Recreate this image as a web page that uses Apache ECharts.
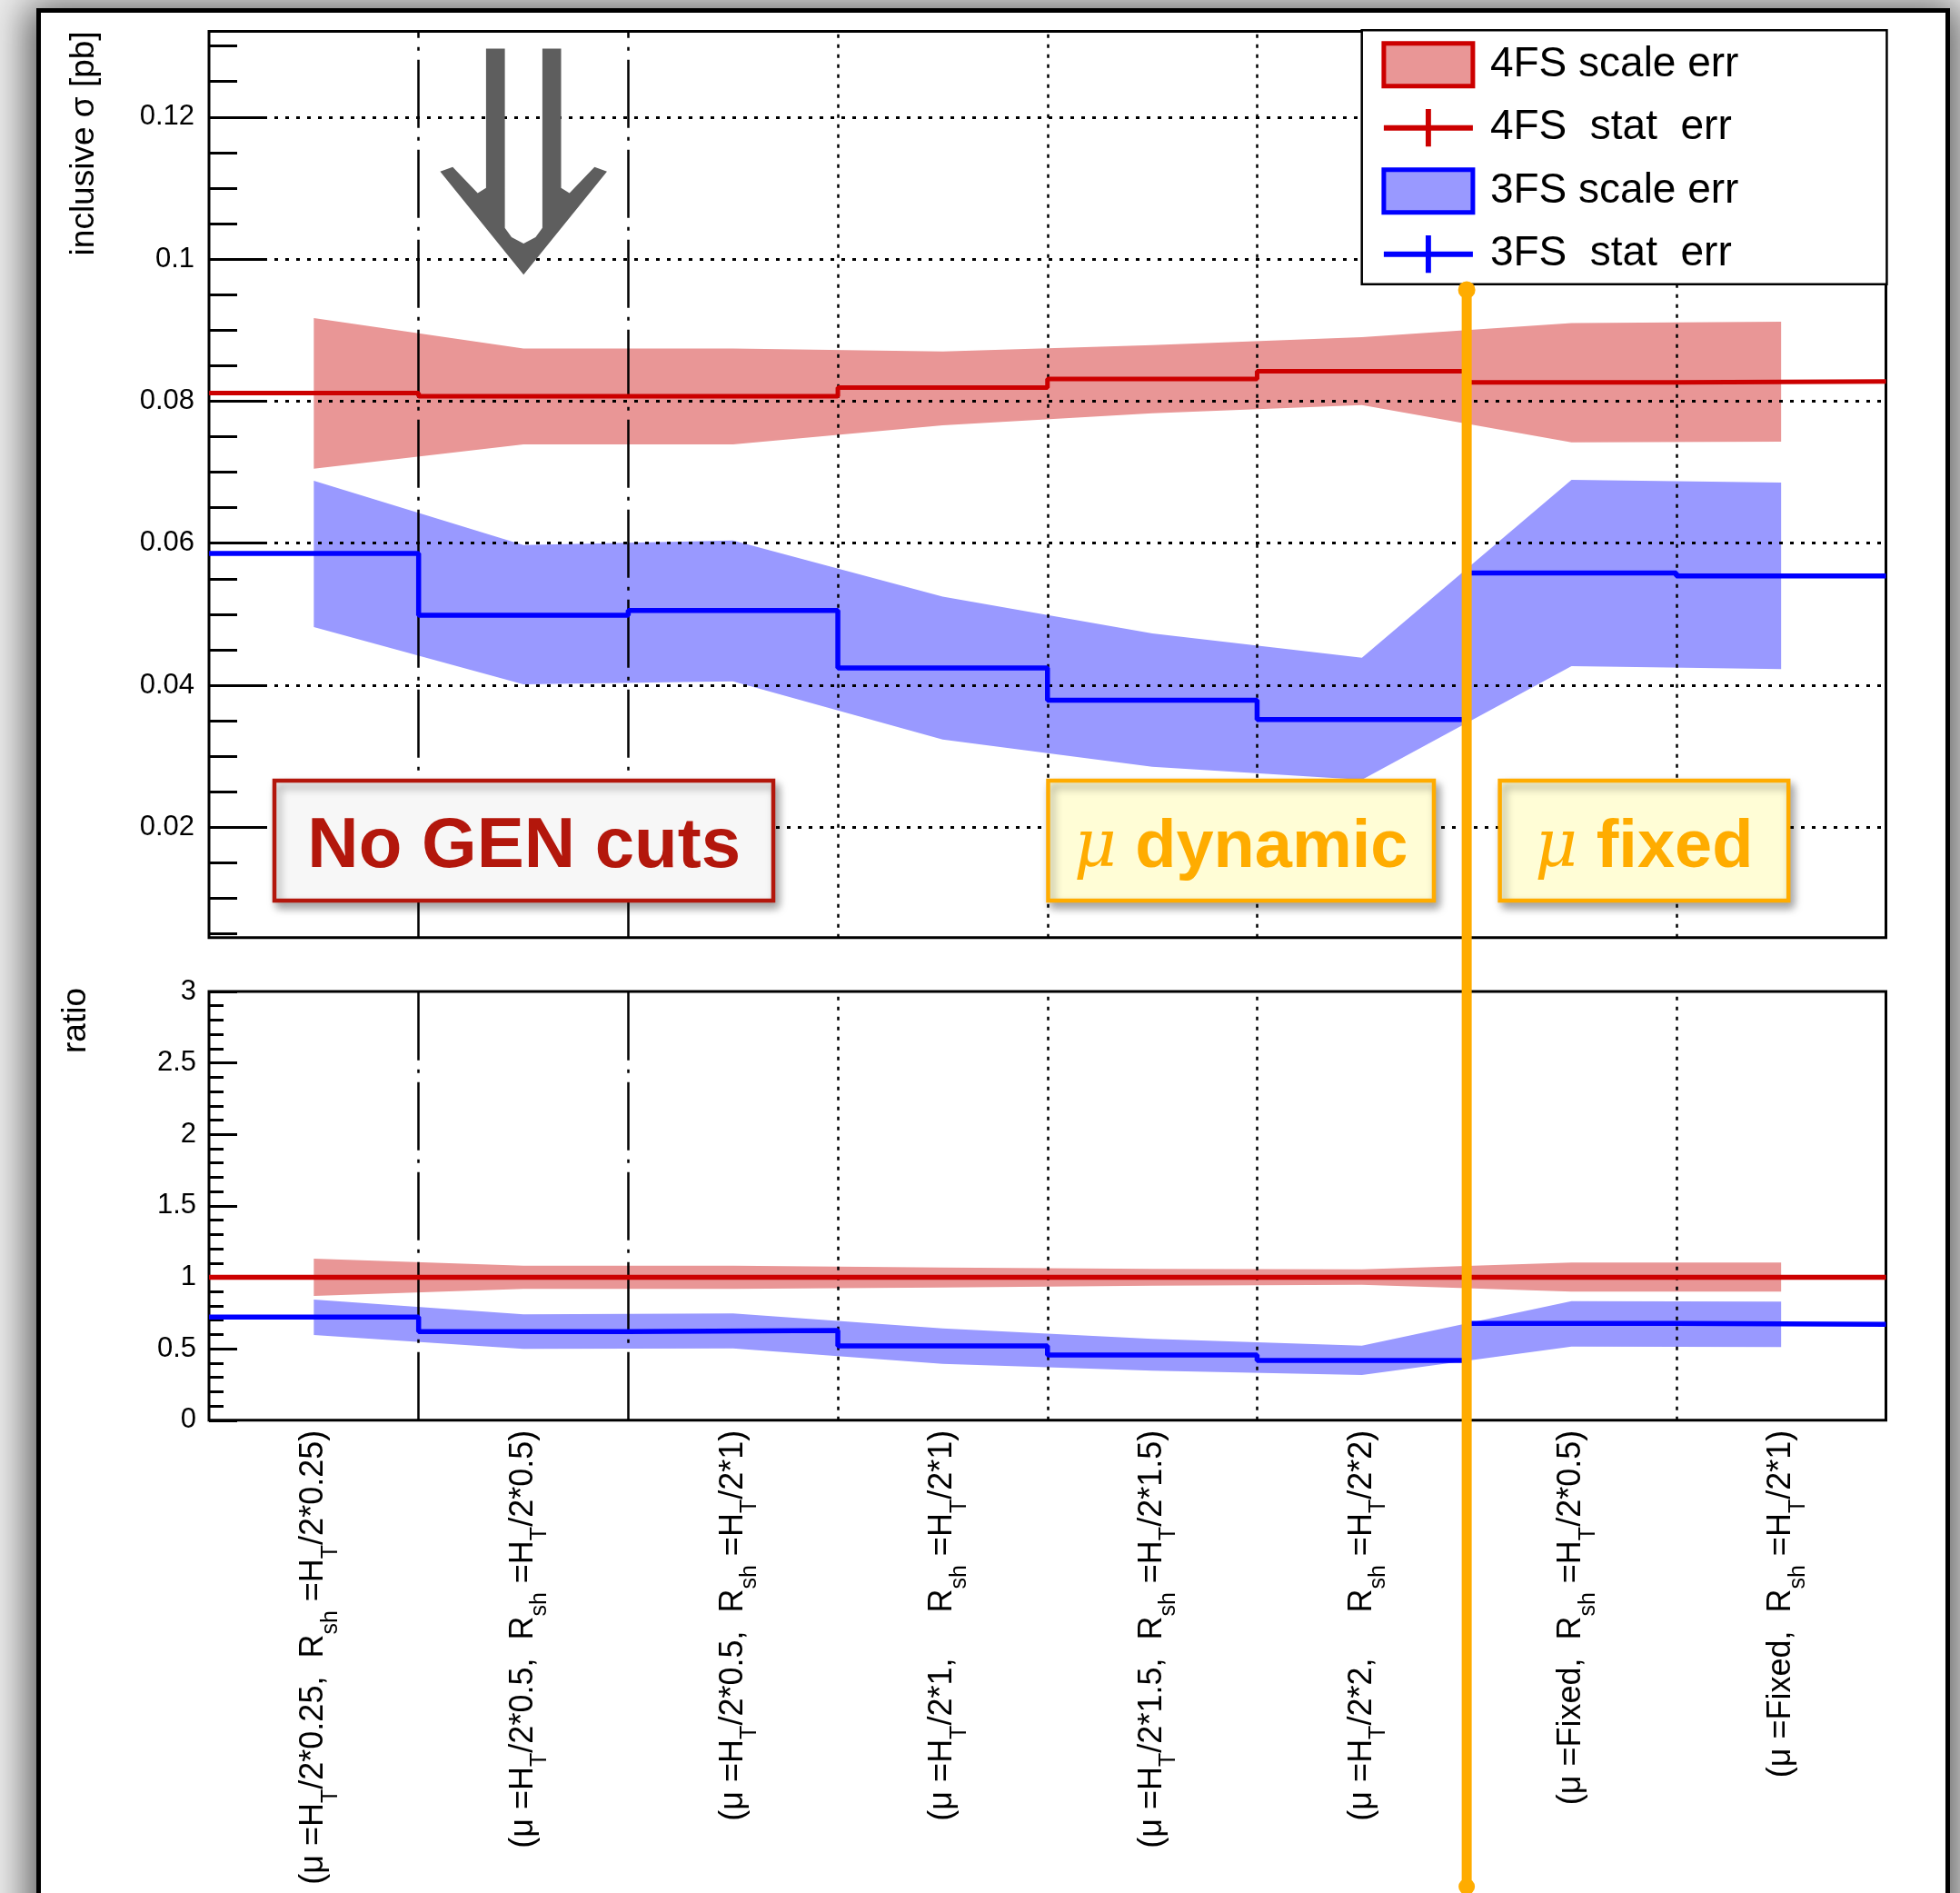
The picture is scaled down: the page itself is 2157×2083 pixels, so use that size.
<!DOCTYPE html>
<html>
<head>
<meta charset="utf-8">
<script src="https://cdn.jsdelivr.net/npm/echarts@6/dist/echarts.min.js"></script>
<style>
  html, body { margin: 0; padding: 0; width: 2157px; height: 2083px; overflow: hidden; background: #ececec; }
  #sheet { position: absolute; left: 40px; top: 9px; width: 2096px; height: 2200px;
           border: 5px solid #000; background: #fff; box-shadow: 0 6px 40px 10px rgba(0,0,0,0.6); }
  #chart { position: absolute; left: 0; top: 0; width: 2157px; height: 2083px; }
</style>
</head>
<body>
<div id="sheet"></div>
<div id="chart"></div>
<script>
// ---- bins (scale choices), "_{..}" marks a subscript ----
const CATEGORIES = [
  '(μ =H_{T}/2*0.25,  R_{sh} =H_{T}/2*0.25)',
  '(μ =H_{T}/2*0.5,  R_{sh} =H_{T}/2*0.5)',
  '(μ =H_{T}/2*0.5,  R_{sh} =H_{T}/2*1)',
  '(μ =H_{T}/2*1,     R_{sh} =H_{T}/2*1)',
  '(μ =H_{T}/2*1.5,  R_{sh} =H_{T}/2*1.5)',
  '(μ =H_{T}/2*2,     R_{sh} =H_{T}/2*2)',
  '(μ =Fixed,  R_{sh} =H_{T}/2*0.5)',
  '(μ =Fixed,  R_{sh} =H_{T}/2*1)'
];

// ---- inclusive cross section [pb] ----
const XS_4FS       = [0.08115, 0.0807, 0.0807, 0.0819, 0.08312, 0.08422, 0.08265, 0.08278];
const XS_4FS_UP    = [0.0917, 0.0874, 0.0874, 0.0870, 0.0879, 0.0890, 0.0910, 0.0912];
const XS_4FS_DOWN  = [0.0705, 0.0739, 0.0739, 0.0766, 0.0783, 0.07945, 0.0742, 0.0743];
const XS_3FS       = [0.05855, 0.04985, 0.05053, 0.04243, 0.0379, 0.03518, 0.05582, 0.0554];
const XS_3FS_UP    = [0.06879, 0.05974, 0.06038, 0.05249, 0.0473, 0.04388, 0.06892, 0.06853];
const XS_3FS_DOWN  = [0.04819, 0.04013, 0.04055, 0.03236, 0.02852, 0.02669, 0.04269, 0.04226];

// ---- ratio to the 4FS central value ----
const RATIO_4FS      = [1, 1, 1, 1, 1, 1, 1, 1];
const RATIO_4FS_UP   = [1.131, 1.082, 1.082, 1.069, 1.059, 1.056, 1.103, 1.103];
const RATIO_4FS_DOWN = [0.870, 0.919, 0.919, 0.929, 0.942, 0.948, 0.900, 0.900];
const RATIO_3FS      = [0.7216, 0.620, 0.628, 0.520, 0.4565, 0.4183, 0.677, 0.671];
const RATIO_3FS_UP   = [0.844, 0.741, 0.747, 0.643, 0.569, 0.522, 0.834, 0.830];
const RATIO_3FS_DOWN = [0.596, 0.499, 0.503, 0.395, 0.3465, 0.3166, 0.516, 0.512];

// ---- axes ----
const TOP_Y_MIN = 0.00447, TOP_Y_MAX = 0.13208;
const TOP_TICK_LABELS = [0.02, 0.04, 0.06, 0.08, 0.1, 0.12];
const TOP_MINOR_TICKS = [0.005, 0.01, 0.015, 0.02, 0.025, 0.03, 0.035, 0.04, 0.045, 0.05, 0.055, 0.06,
                         0.065, 0.07, 0.075, 0.08, 0.085, 0.09, 0.095, 0.1, 0.105, 0.11, 0.115, 0.12, 0.125, 0.13];
const RATIO_MIN = 0, RATIO_MAX = 3, RATIO_STEP = 0.5;
const EDGES_DASHDOT = [1, 2];
const EDGES_DOTTED = [3, 4, 5, 6, 7];
const DIVIDER_EDGE = 6;

const FONT = 'Liberation Sans';
const RED = '#cc0000', BLUE = '#0000ff', PINK = '#e99696', LILAC = '#9999ff', ORANGE = '#ffac00';

// histogram: one horizontal step per bin
const histPoints = vals => vals.map((v, i) => [i, v]).concat([[vals.length, vals[vals.length - 1]]]);

// scale band: polygon through the bin centres
function band(name, lo, hi, color, gi) {
  const pts = lo.map((l, i) => [i + 0.5, l, hi[i]]);
  return {
    type: 'custom', name, xAxisIndex: gi === 0 ? 0 : 1, yAxisIndex: gi === 0 ? 0 : 2,
    z: 2, silent: true, data: pts, encode: { x: 0, y: [1, 2] },
    renderItem(params, api) {
      if (params.dataIndex !== 0) return null;
      const upper = pts.map(p => api.coord([p[0], p[2]]));
      const lower = pts.map(p => api.coord([p[0], p[1]])).reverse();
      return { type: 'polygon', shape: { points: upper.concat(lower) }, style: { fill: color } };
    }
  };
}

function gridLines(withHorizontal) {
  const data = [];
  EDGES_DASHDOT.forEach(x => data.push({ xAxis: x, lineStyle: { color: '#000', width: 2.5, type: [75, 10, 4, 10] } }));
  EDGES_DOTTED.forEach(x => data.push({ xAxis: x, lineStyle: { color: '#000', width: 2.5, type: [4, 7] } }));
  if (withHorizontal) TOP_TICK_LABELS.forEach(y => data.push({ yAxis: y, lineStyle: { color: '#000', width: 3, type: [4, 8] } }));
  return { silent: true, symbol: 'none', z: 3, label: { show: false }, emphasis: { disabled: true }, data };
}

function step(name, vals, color, width, gi, lines) {
  const s = {
    type: 'line', name, xAxisIndex: gi === 0 ? 0 : 1, yAxisIndex: gi === 0 ? 0 : 2,
    data: histPoints(vals), step: 'end', symbol: 'none', z: 4, silent: true,
    lineStyle: { color, width }, itemStyle: { color }
  };
  if (lines) s.markLine = lines;
  return s;
}

function richLabel(s) {
  const parts = s.split(/_\{([^}]*)\}/);
  return parts.map((p, i) => p === '' ? '' : (i % 2 ? '{s|' + p + '}' : '{n|' + p + '}')).join('');
}

const CROSS = 'path://M0,18h100v6H0z M47,0h6v42h-6z';

const chart = echarts.init(document.getElementById('chart'), null, { renderer: 'canvas' });
chart.setOption({
  animation: false,
  grid: [
    { left: 230, top: 34.4, width: 1845.5, height: 997.3, show: true, borderColor: '#000', borderWidth: 3,
      backgroundColor: 'transparent', containLabel: false, outerBoundsMode: 'none' },
    { left: 230, top: 1091, width: 1845.5, height: 471.8, show: true, borderColor: '#000', borderWidth: 3,
      backgroundColor: 'transparent', containLabel: false, outerBoundsMode: 'none' }
  ],
  xAxis: [
    { gridIndex: 0, type: 'value', min: 0, max: CATEGORIES.length, show: false },
    { gridIndex: 1, type: 'value', min: 0, max: CATEGORIES.length, show: false },
    { gridIndex: 1, type: 'category', position: 'bottom', data: CATEGORIES, boundaryGap: true,
      axisLine: { show: false }, axisTick: { show: false }, splitLine: { show: false },
      axisLabel: {
        interval: 0, rotate: 90, margin: 11, color: '#000',
        formatter: v => richLabel(v),
        rich: {
          n: { fontFamily: FONT, fontSize: 36, lineHeight: 62, color: '#000' },
          s: { fontFamily: FONT, fontSize: 25, lineHeight: 25, verticalAlign: 'bottom', color: '#000' }
        }
      } }
  ],
  yAxis: [
    { gridIndex: 0, type: 'value', position: 'left', min: TOP_Y_MIN, max: TOP_Y_MAX,
      axisLine: { show: false }, splitLine: { show: false },
      axisTick: { show: true, inside: true, length: 31, customValues: TOP_MINOR_TICKS, lineStyle: { color: '#000', width: 3 } },
      axisLabel: { show: true, customValues: TOP_TICK_LABELS, margin: 16, color: '#000', fontFamily: FONT, fontSize: 31,
                   formatter: v => String(+v.toFixed(3)) } },
    { gridIndex: 0, type: 'value', position: 'left', min: TOP_Y_MIN, max: TOP_Y_MAX,
      axisLine: { show: false }, splitLine: { show: false }, axisLabel: { show: false },
      axisTick: { show: true, inside: true, length: 63, customValues: TOP_TICK_LABELS, lineStyle: { color: '#000', width: 3 } } },
    { gridIndex: 1, type: 'value', position: 'left', min: RATIO_MIN, max: RATIO_MAX, interval: RATIO_STEP,
      axisLine: { show: false }, splitLine: { show: false },
      axisTick: { show: true, inside: true, length: 31, lineStyle: { color: '#000', width: 3 } },
      minorTick: { show: true, splitNumber: 5, length: 16, lineStyle: { color: '#000', width: 3 } },
      axisLabel: { margin: 14, color: '#000', fontFamily: FONT, fontSize: 31 } }
  ],
  legend: {
    orient: 'vertical', left: 1498.7, top: 33.3, z: 25, selectedMode: false,
    backgroundColor: '#fff', borderColor: '#000', borderWidth: 2.5, borderRadius: 0,
    padding: [11.9, 163, 10, 21.7], itemWidth: 98, itemHeight: 47, itemGap: 20.5,
    textStyle: { fontFamily: FONT, fontSize: 46, color: '#000', padding: [0, 0, 0, 14] },
    data: [
      { name: '4FS scale err', icon: 'rect', itemStyle: { color: PINK, borderColor: RED, borderWidth: 5 } },
      { name: '4FS  stat  err', icon: CROSS, itemStyle: { color: RED, borderWidth: 0 } },
      { name: '3FS scale err', icon: 'rect', itemStyle: { color: LILAC, borderColor: BLUE, borderWidth: 5 } },
      { name: '3FS  stat  err', icon: CROSS, itemStyle: { color: BLUE, borderWidth: 0 } }
    ]
  },
  series: [
    band('4FS scale err', XS_4FS_DOWN, XS_4FS_UP, PINK, 0),
    band('3FS scale err', XS_3FS_DOWN, XS_3FS_UP, LILAC, 0),
    step('4FS  stat  err', XS_4FS, RED, 5, 0, gridLines(true)),
    step('3FS  stat  err', XS_3FS, BLUE, 5.5, 0),
    band('4FS ratio band', RATIO_4FS_DOWN, RATIO_4FS_UP, PINK, 1),
    band('3FS ratio band', RATIO_3FS_DOWN, RATIO_3FS_UP, LILAC, 1),
    step('4FS ratio', RATIO_4FS, RED, 5.5, 1, gridLines(false)),
    step('3FS ratio', RATIO_3FS, BLUE, 5.5, 1)
  ]
});

// annotations: titles, label boxes, arrow and the dynamic/fixed divider
const divX = chart.convertToPixel({ xAxisIndex: 0 }, DIVIDER_EDGE);
const boxShadow = { shadowBlur: 10, shadowOffsetX: 4, shadowOffsetY: 6, shadowColor: 'rgba(0,0,0,0.35)' };
const muRich = {
  m: { fontFamily: 'DejaVu Serif', fontStyle: 'italic', fontSize: 72, fill: ORANGE },
  b: { fontFamily: FONT, fontWeight: 'bold', fontSize: 74, fill: ORANGE }
};
chart.setOption({
  graphic: [
    { type: 'text', x: 93, y: 34.4, rotation: Math.PI / 2, z: 10,
      style: { text: 'inclusive σ [pb]', fontFamily: FONT, fontSize: 37, fill: '#000', align: 'right', verticalAlign: 'middle' } },
    { type: 'text', x: 84, y: 1087, rotation: Math.PI / 2, z: 10,
      style: { text: 'ratio', fontFamily: FONT, fontSize: 37, fill: '#000', align: 'right', verticalAlign: 'middle' } },
    { type: 'polygon', z: 10, shape: { points: [
        [534.9, 53.6], [555.6, 53.6], [555.6, 250.7], [563, 261], [576.2, 267.9], [589.4, 261], [596.9, 250.7],
        [596.9, 53.6], [617.5, 53.6], [617.5, 206.7], [626.7, 212.4], [654.3, 183.7], [668, 188.7],
        [576.2, 302.3], [484.4, 188.7], [498.2, 183.7], [525.7, 212.4], [534.9, 206.7]] },
      style: { fill: '#5e5e5e' } },
    { type: 'rect', z: 20, shape: { x: 302, y: 859, width: 549, height: 132 },
      style: Object.assign({ fill: '#f7f7f7', stroke: '#b3170c', lineWidth: 4.5 }, boxShadow) },
    { type: 'text', z: 21, x: 576.7, y: 932,
      style: { text: 'No GEN cuts', fontFamily: FONT, fontWeight: 'bold', fontSize: 78, fill: '#b3170c', align: 'center', verticalAlign: 'middle' } },
    { type: 'rect', z: 20, shape: { x: 1153.5, y: 859, width: 424.5, height: 132 },
      style: Object.assign({ fill: '#fffdd6', stroke: ORANGE, lineWidth: 4.5 }, boxShadow) },
    { type: 'text', z: 21, x: 1365.7, y: 934,
      style: { text: '{m|μ}{b| dynamic}', align: 'center', verticalAlign: 'middle', rich: muRich } },
    { type: 'rect', z: 20, shape: { x: 1650.6, y: 859, width: 317.6, height: 132 },
      style: Object.assign({ fill: '#fffdd6', stroke: ORANGE, lineWidth: 4.5 }, boxShadow) },
    { type: 'text', z: 21, x: 1809.4, y: 934,
      style: { text: '{m|μ}{b| fixed}', align: 'center', verticalAlign: 'middle', rich: muRich } },
    { type: 'line', z: 30, shape: { x1: divX, y1: 319, x2: divX, y2: 2076 },
      style: { stroke: ORANGE, lineWidth: 11, lineCap: 'round' } },
    { type: 'circle', z: 30, shape: { cx: divX, cy: 319, r: 9.5 }, style: { fill: ORANGE } },
    { type: 'circle', z: 30, shape: { cx: divX, cy: 2076, r: 9 }, style: { fill: ORANGE } }
  ]
});
</script>
</body>
</html>
